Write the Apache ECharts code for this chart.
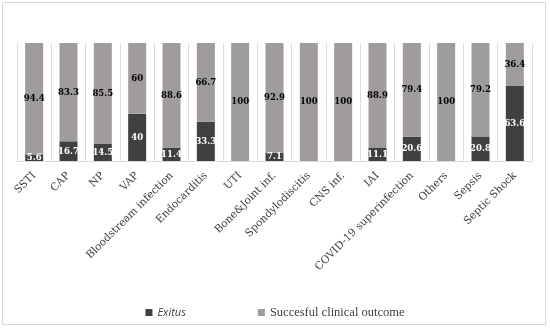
<!DOCTYPE html>
<html><head><meta charset="utf-8">
<script src="https://cdn.jsdelivr.net/npm/echarts@6/dist/echarts.min.js"></script>
<style>html,body{margin:0;padding:0;background:#fff}#c{width:550px;height:328px}</style>
</head><body><div id="c"></div>
<script>
const categories = ['SSTI','CAP','NP','VAP','Bloodstream infection','Endocarditis','UTI','Bone&Joint inf.','Spondylodiscitis','CNS inf.','IAI','COVID-19 superinfection','Others','Sepsis','Septic Shock'];
const exitus = [5.6,16.7,14.5,40,11.4,33.3,0,7.1,0,0,11.1,20.6,0,20.8,63.6];
const success = [94.4,83.3,85.5,60,88.6,66.7,100,92.9,100,100,88.9,79.4,100,79.2,36.4];

const chart = echarts.init(document.getElementById('c'));
const lblFont = {fontFamily:'DejaVu Serif Condensed, Liberation Serif, serif', fontWeight:'bold', fontSize:9.5};
chart.setOption({
  animation:false,
  graphic:[{type:'rect', shape:{x:2.5,y:2.5,width:543,height:322}, style:{fill:'none', stroke:'#d9d9d9', lineWidth:1}}],
  grid:{left:17,right:18,top:43,bottom:167},
  legend:{
    bottom:4, left:'center', itemWidth:7, itemHeight:7, itemGap:72,
    icon:'rect',
    data:['Exitus','Succesful clinical outcome'],
    formatter: n => n==='Exitus' ? '{i|'+n+'}' : '{s|'+n+'}',
    textStyle:{rich:{
      i:{fontFamily:'Open Sans, sans-serif', fontStyle:'italic', fontSize:11, color:'#404040'},
      s:{fontFamily:'Liberation Serif, serif', fontSize:12.5, color:'#404040'}
    }}
  },
  xAxis:{type:'category', data:categories,
    axisLine:{lineStyle:{color:'#d9d9d9'}}, axisTick:{show:false},
    splitLine:{show:true, lineStyle:{color:'#dcdcdc'}},
    axisLabel:{rotate:45, interval:0, margin:13, color:'#404040', fontFamily:'DejaVu Serif, serif', fontSize:10.5}
  },
  yAxis:{type:'value', min:0, max:100, show:false, splitLine:{show:false}},
  series:[
    {name:'Exitus', type:'bar', stack:'s', barWidth:18, data:exitus, itemStyle:{color:'#404040'},
     label:{show:true, position:'inside', color:'#fff', ...lblFont, formatter:p=>p.value>0?p.value:''}},
    {name:'Succesful clinical outcome', type:'bar', stack:'s', barWidth:18, data:success, itemStyle:{color:'#a09c9c'},
     label:{show:true, position:'inside', color:'#000', ...lblFont, formatter:p=>p.value>0?p.value:''}}
  ]
});
</script></body></html>
